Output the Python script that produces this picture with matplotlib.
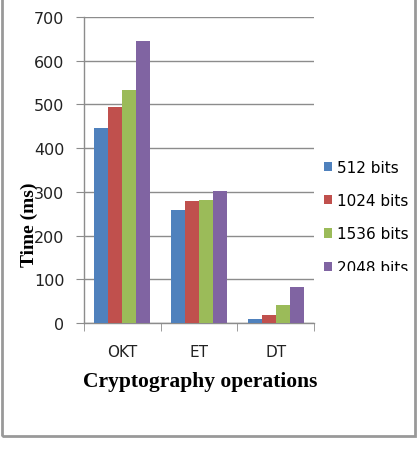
import matplotlib
matplotlib.use('Agg')
import matplotlib.pyplot as plt
from matplotlib.patches import Rectangle
from matplotlib.transforms import Bbox
import numpy as np

categories = ['OKT', 'ET', 'DT']
series_names = ['512 bits', '1024 bits', '1536 bits', '2048 bits']
t_512 = [447, 259, 10]
t_1024 = [495, 280, 19]
t_1536 = [534, 282, 42]
t_2048 = [645, 301, 83]
colors = ['#4F81BD', '#C0504D', '#9BBB59', '#8064A2']

fig = plt.figure(figsize=(4.2, 4.6), dpi=100)
ax = fig.add_axes([84 / 420, 1 - 324 / 460, 230 / 420, 306 / 460])

x = np.arange(len(categories))
width = 0.182
series = [t_512, t_1024, t_1536, t_2048]
for i, (vals, name, col) in enumerate(zip(series, series_names, colors)):
    ax.bar(x + (i - 1.5) * width, vals, width, color=col, label=name, zorder=3)

ax.set_xlim(-0.5, 2.5)
ax.set_ylim(0, 700)
ax.set_yticks(range(0, 701, 100))
ax.yaxis.grid(True, color='#8c8c8c', linewidth=1, zorder=0)
for s in ['top', 'right']:
    ax.spines[s].set_visible(False)
for s in ['left', 'bottom']:
    ax.spines[s].set_color('#8c8c8c')
    ax.spines[s].set_linewidth(1)

ax.set_xticks(x)
ax.set_xticklabels(categories)
ax.set_xticks([-0.5, 0.5, 1.5, 2.5], minor=True)
ax.tick_params(axis='x', which='major', length=0, pad=15, labelsize=11, colors='#222222')
ax.tick_params(axis='x', which='minor', length=6, color='#8c8c8c')
ax.tick_params(axis='y', length=6, color='#8c8c8c', labelsize=11.5, labelcolor='#222222', pad=8)

fig.text(29 / 420, 1 - 225 / 460, 'Time (ms)', rotation=90, ha='center', va='center',
         family='Liberation Serif', fontweight='bold', fontsize=14)
fig.text(200 / 420, 1 - 382 / 460, 'Cryptography operations', ha='center', va='center',
         family='Liberation Serif', fontweight='bold', fontsize=15.5)

leg = fig.legend(loc='upper left', bbox_to_anchor=(316 / 420, 1 - 153 / 460), frameon=False,
                 fontsize=11, handlelength=0.55, handleheight=0.55, handletextpad=0.35,
                 labelspacing=1.2, borderpad=0)

# outer frame
fig.patches.append(Rectangle((2 / 420, 1 - 437 / 460), 413 / 420, 437 / 460 + 0.01,
                             transform=fig.transFigure, fill=False, edgecolor='#999999',
                             linewidth=2))

# legend box is cut off at the bottom in the reference
clip = Bbox.from_extents(0, 460 - 272, 420, 460)
for t in leg.get_texts():
    t.set_clip_box(clip)
    t.set_clip_on(True)

fig.savefig('out.png', dpi=100)
